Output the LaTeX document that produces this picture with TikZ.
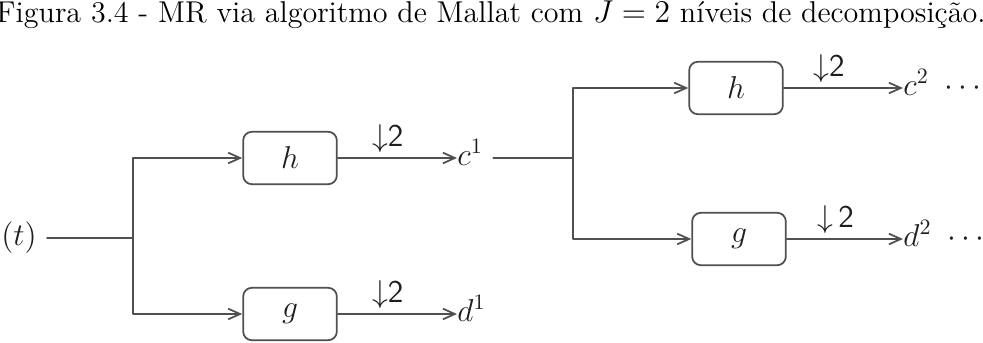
\documentclass[tikz,border=0pt]{standalone}
\usepackage{amsmath,amssymb}
\usepackage{xcolor}
\usetikzlibrary{arrows.meta,positioning}
\definecolor{mrInk}{HTML}{1E1E1E}
\definecolor{mrLine}{HTML}{505050}
\tikzset{
  mr diagram/.style={font=\Large, text=mrInk,
    line cap=round, line join=round},
  mr title/.style={font=\fontsize{13.7}{16}\selectfont, text=black},
  mr box/.style={draw=mrLine, fill=white, line width=0.8pt,
    rounded corners=4pt, minimum width=1.5cm, minimum height=0.84cm, inner sep=0pt},
  mr wire/.style={draw=mrLine, line width=0.8pt},
  mr arrow/.style={mr wire, -{Straight Barb[length=1.9mm,width=1.7mm]}},
  mr down/.style={inner sep=2pt},
  mr label/.style={inner sep=0pt}
}

\begin{document}
\begin{tikzpicture}[mr diagram,x=0.016cm,y=-0.016cm]
\useasboundingbox (0,0) rectangle (983,342);
\node[mr title,anchor=base] (title) at (491,22) {Figura 3.4 - MR via algoritmo de Mallat com $J=2$ níveis de decomposição.};
% first level
\node[mr label,anchor=base east] (f) at (37,245) {$f(t)$};
\coordinate (s1) at (133,238);
\node[mr box] (h1) at (290,158) {$h$};
\node[mr box] (g1) at (290,314) {$g$};
\node[mr label,anchor=base west] (c1) at (457,165) {$c^1$};
\node[mr label,anchor=base west] (d1) at (457,321) {$d^1$};
\draw[mr wire] (f.east |- s1) ++(10,0) -- (s1);
\draw[mr arrow] (s1) |- (h1.west);
\draw[mr arrow] (s1) |- (g1.west);
\draw[mr arrow] (h1.east) -- node[mr down,above,pos=0.42] (dh1) {$\downarrow$\textsf{2}} (h1.east -| c1.west);
\draw[mr arrow] (g1.east) -- node[mr down,above,pos=0.42] (dg1) {$\downarrow$\textsf{2}} (g1.east -| d1.west);
% second level
\coordinate (s2) at (573,158);
\node[mr box] (h2) at (736,88) {$h$};
\node[mr box] (g2) at (739,239) {$g$};
\node[mr label,anchor=base west] (c2) at (903,95) {$c^2$\enspace$\cdots$};
\node[mr label,anchor=base west] (d2) at (903,246) {$d^2$\enspace$\cdots$};
\draw[mr wire] (c1.east |- s2) ++(10,0) -- (s2);
\draw[mr arrow] (s2) |- (h2.west);
\draw[mr arrow] (s2) |- (g2.west);
\draw[mr arrow] (h2.east) -- node[mr down,above,pos=0.38] (dh2) {$\downarrow$\textsf{2}} (h2.east -| c2.west);
\draw[mr arrow] (g2.east) -- node[mr down,above,pos=0.42] (dg2) {$\downarrow$\,\textsf{2}} (g2.east -| d2.west);
\end{tikzpicture}
\end{document}
